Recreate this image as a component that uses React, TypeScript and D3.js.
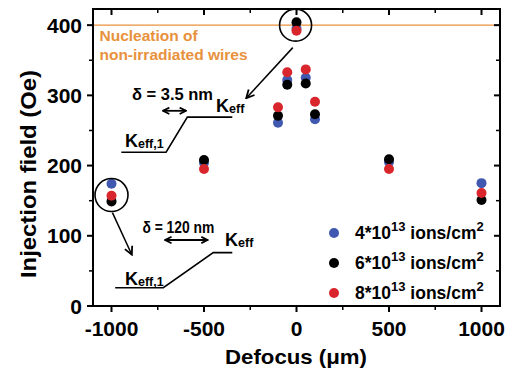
import React from "react";
import * as d3 from "d3";

const defocus = [-1000, -500, -100, -50, 0, 50, 100, 500, 1000];
const blueValues = [174, 204, 261, 322, 395, 325, 266, 205, 175];
const blackValues = [149, 208, 271, 315, 404, 317, 273, 209, 151];
const redValues = [157, 195, 283, 333, 392, 337, 291, 195, 161];
const seriesLabels = ["4*10", "6*10", "8*10"];
const xTicks = [-1000, -500, 0, 500, 1000];
const xMinor = [-750, -250, 250, 750];
const yTicks = [0, 100, 200, 300, 400];
const yMinor = [50, 150, 250, 350];
const nucleationLevel = 400;

const W = 507;
const H = 372;
const M = { left: 93, right: 7, top: 9, bottom: 66 };
const FONT = "'Liberation Sans', Arial, sans-serif";

export default function App() {
  const x = d3.scaleLinear().domain([-1100, 1100]).range([M.left, W - M.right]);
  const y = d3.scaleLinear().domain([0, 423]).range([H - M.bottom, M.top]);
  const x0 = M.left, x1 = W - M.right, y0 = H - M.bottom, y1 = M.top;

  const series = [
    { values: blueValues, color: "#4158b0", label: seriesLabels[0] },
    { values: blackValues, color: "#000000", label: seriesLabels[1] },
    { values: redValues, color: "#d9262c", label: seriesLabels[2] },
  ];

  const Keff = ({ px, py, sub }: { px: number; py: number; sub: string }) => (
    <text x={px} y={py} fontFamily={FONT} fontWeight="bold" fontSize={18}>
      K<tspan fontSize={12.5} dy={1}>{sub}</tspan>
    </text>
  );

  const step = (pts: [number, number][]) =>
    d3.line()(pts.map(([a, b]) => [x(a), y(b)] as [number, number])) || "";

  return (
    <svg width={W} height={H} style={{ position: "absolute", left: 0, top: 0 }}>
      <defs>
        <marker id="ah" viewBox="0 0 10 10" refX="9" refY="5" markerUnits="userSpaceOnUse" markerWidth="10" markerHeight="10" orient="auto-start-reverse">
          <path d="M1,1 L9,5 L1,9" fill="none" stroke="#000" strokeWidth={1.8} />
        </marker>
        <marker id="ahs" viewBox="0 0 10 10" refX="9" refY="5" markerUnits="userSpaceOnUse" markerWidth="8" markerHeight="8" orient="auto-start-reverse">
          <path d="M1,1 L9,5 L1,9" fill="none" stroke="#000" strokeWidth={2.2} />
        </marker>
      </defs>
      <rect x={0} y={0} width={W} height={H} fill="#fff" />

      {/* nucleation line */}
      <line x1={x0} x2={x1} y1={y(nucleationLevel)} y2={y(nucleationLevel)} stroke="#e8913c" strokeWidth={1.3} />
      <text x={x(-1065)} y={y(377)} fill="#e8913c" fontFamily={FONT} fontWeight="bold" fontSize={15.5}>
        Nucleation of
      </text>
      <text x={x(-1065)} y={y(350)} fill="#e8913c" fontFamily={FONT} fontWeight="bold" fontSize={15.5}>
        non-irradiated wires
      </text>

      {/* data */}
      {series.map((s, si) =>
        s.values.map((v, i) => (
          <circle key={si + "-" + i} cx={x(defocus[i])} cy={y(v)} r={5} fill={s.color} />
        ))
      )}

      {/* circles and arrows */}
      <circle cx={x(-5)} cy={y(400)} r={16} fill="none" stroke="#000" strokeWidth={1.6} />
      <circle cx={x(-1000)} cy={y(158)} r={16.5} fill="none" stroke="#000" strokeWidth={1.6} />
      <line x1={x(-20)} y1={y(368)} x2={x(-272)} y2={y(296)} stroke="#000" strokeWidth={1.5} markerEnd="url(#ah)" />
      <line x1={x(-995)} y1={y(133)} x2={x(-890)} y2={y(73)} stroke="#000" strokeWidth={1.5} markerEnd="url(#ah)" />

      {/* annotation 1 */}
      <text x={x(-889)} y={y(293)} fontFamily={FONT} fontWeight="bold" fontSize={16.5} textLength={81} lengthAdjust="spacingAndGlyphs">δ = 3.5 nm</text>
      <line x1={x(-722)} x2={x(-597)} y1={y(278)} y2={y(278)} stroke="#000" strokeWidth={1.8} markerStart="url(#ahs)" markerEnd="url(#ahs)" />
      <Keff px={x(-435)} py={y(277)} sub="eff" />
      <path d={step([[-947, 219], [-705, 219], [-590, 269], [-347, 269]])} fill="none" stroke="#000" strokeWidth={1.6} />
      <Keff px={x(-927)} py={y(226)} sub="eff,1" />

      {/* annotation 2 */}
      <text x={x(-833)} y={y(104)} fontFamily={FONT} fontWeight="bold" fontSize={16} textLength={72} lengthAdjust="spacingAndGlyphs">δ = 120 nm</text>
      <line x1={x(-710)} x2={x(-480)} y1={y(94)} y2={y(94)} stroke="#000" strokeWidth={1.8} markerStart="url(#ahs)" markerEnd="url(#ahs)" />
      <Keff px={x(-386)} py={y(86)} sub="eff" />
      <path d={step([[-980, 26], [-720, 26], [-450, 76], [-347, 76]])} fill="none" stroke="#000" strokeWidth={1.6} />
      <Keff px={x(-927)} py={y(30)} sub="eff,1" />

      {/* legend */}
      {series.map((s, i) => {
        const ly = 233 + i * 30;
        return (
          <g key={"lg" + i}>
            <circle cx={334} cy={ly} r={5} fill={s.color} />
            <text x={355} y={ly + 6} fontFamily={FONT} fontWeight="bold" fontSize={17.5}>
              {s.label}
              <tspan dy={-8} fontSize={13}>13</tspan>
              <tspan dy={8}> ions/cm</tspan>
              <tspan dy={-8} fontSize={13}>2</tspan>
            </text>
          </g>
        );
      })}

      {/* frame */}
      <rect x={x0} y={y1} width={x1 - x0} height={y0 - y1} fill="none" stroke="#000" strokeWidth={2} />

      {/* x ticks */}
      {xTicks.map((t) => (
        <g key={"xt" + t}>
          <line x1={x(t)} x2={x(t)} y1={y0} y2={y0 + 6} stroke="#000" strokeWidth={2} />
          <line x1={x(t)} x2={x(t)} y1={y1} y2={y1 + 6} stroke="#000" strokeWidth={2} />
          <text x={x(t)} y={y0 + 30} textAnchor="middle" fontFamily={FONT} fontWeight="bold" fontSize={21}>
            {t}
          </text>
        </g>
      ))}
      {xMinor.map((t) => (
        <g key={"xm" + t}>
          <line x1={x(t)} x2={x(t)} y1={y0} y2={y0 + 4} stroke="#000" strokeWidth={1.5} />
          <line x1={x(t)} x2={x(t)} y1={y1} y2={y1 + 4} stroke="#000" strokeWidth={1.5} />
        </g>
      ))}

      {/* y ticks */}
      {yTicks.map((t) => (
        <g key={"yt" + t}>
          <line x1={x0 - 6} x2={x0} y1={y(t)} y2={y(t)} stroke="#000" strokeWidth={2} />
          <line x1={x1 - 6} x2={x1} y1={y(t)} y2={y(t)} stroke="#000" strokeWidth={2} />
          <text x={x0 - 11} y={y(t) + 7.5} textAnchor="end" fontFamily={FONT} fontWeight="bold" fontSize={21}>
            {t}
          </text>
        </g>
      ))}
      {yMinor.map((t) => (
        <g key={"ym" + t}>
          <line x1={x0 - 4} x2={x0} y1={y(t)} y2={y(t)} stroke="#000" strokeWidth={1.5} />
          <line x1={x1 - 4} x2={x1} y1={y(t)} y2={y(t)} stroke="#000" strokeWidth={1.5} />
        </g>
      ))}

      {/* axis titles */}
      <text x={296} y={364} textAnchor="middle" fontFamily={FONT} fontWeight="bold" fontSize={21} textLength={142} lengthAdjust="spacingAndGlyphs">
        Defocus (μm)
      </text>
      <text
        transform="translate(36, 174) rotate(-90)"
        textAnchor="middle"
        fontFamily={FONT}
        fontWeight="bold"
        fontSize={22}
        textLength={208}
        lengthAdjust="spacingAndGlyphs"
      >
        Injection field (Oe)
      </text>
    </svg>
  );
}
